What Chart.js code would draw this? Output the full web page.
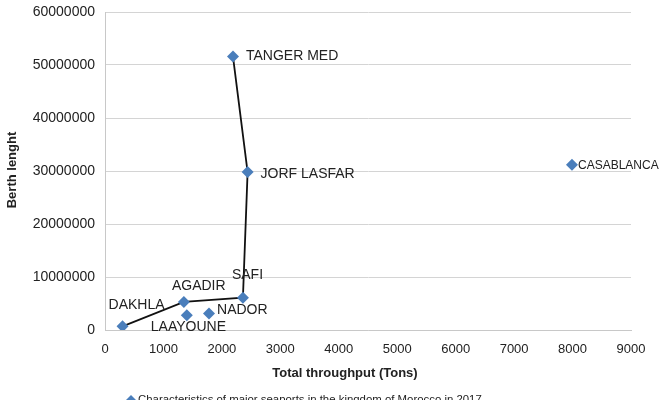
<!DOCTYPE html>
<html>
<head>
<meta charset="utf-8">
<script src="https://cdn.jsdelivr.net/npm/chart.js@4/dist/chart.umd.min.js"></script>
<style>
  html, body { margin: 0; padding: 0; background: #fff; overflow: hidden; }
  #wrap { width: 663px; height: 410px; }
</style>
</head>
<body>
<div id="wrap"><canvas id="c" width="663" height="410"></canvas></div>
<script>
// ports and their values
const ports = ['DAKHLA', 'AGADIR', 'LAAYOUNE', 'NADOR', 'SAFI', 'JORF LASFAR', 'TANGER MED', 'CASABLANCA'];
const throughput = [300, 1350, 1400, 1780, 2360, 2440, 2190, 7990];
const berthLength = [700000, 5300000, 2800000, 3100000, 6100000, 29800000, 51600000, 31200000];
// ports joined by the black line, in drawing order
const linePath = ['DAKHLA', 'AGADIR', 'SAFI', 'JORF LASFAR', 'TANGER MED'];
const xTicks = [0, 1000, 2000, 3000, 4000, 5000, 6000, 7000, 8000, 9000];
const yTicks = [0, 10000000, 20000000, 30000000, 40000000, 50000000, 60000000];

const seriesName = 'Characteristics of major seaports in the kingdom of Morocco in 2017';
const blue = '#4a7ebb';
const textColor = '#222';
const font = '"Liberation Sans", Arial, sans-serif';

// where each label sits relative to its marker (style only)
const labelStyle = {
  'DAKHLA':      { dx: -14, dy: -21, size: 14 },
  'AGADIR':      { dx: -12, dy: -16, size: 14 },
  'LAAYOUNE':    { dx: -36, dy: 12,  size: 14 },
  'NADOR':       { dx: 8,   dy: -3,  size: 14 },
  'SAFI':        { dx: -11, dy: -23, size: 14 },
  'JORF LASFAR': { dx: 13,  dy: 2,   size: 14 },
  'TANGER MED':  { dx: 13,  dy: 0,   size: 14 },
  'CASABLANCA':  { dx: 6,   dy: 1,   size: 12 }
};

const points = ports.map((p, i) => ({ x: throughput[i], y: berthLength[i] }));
const linePoints = linePath.map(p => points[ports.indexOf(p)]);

// labels next to points, axis titles and the bottom legend
const annotate = {
  id: 'annotate',
  afterDatasetsDraw(chart) {
    const ctx = chart.ctx;
    const xs = chart.scales.x, ys = chart.scales.y;
    ctx.save();
    ctx.fillStyle = textColor;
    ctx.textBaseline = 'middle';
    ctx.textAlign = 'left';
    ports.forEach((p, i) => {
      const st = labelStyle[p];
      ctx.font = st.size + 'px ' + font;
      ctx.fillText(p, xs.getPixelForValue(throughput[i]) + st.dx, ys.getPixelForValue(berthLength[i]) + st.dy);
    });

    ctx.font = 'bold 13px ' + font;
    ctx.textAlign = 'center';
    ctx.fillText('Total throughput (Tons)', 345, 373);
    ctx.save();
    ctx.translate(12, 170);
    ctx.rotate(-Math.PI / 2);
    ctx.fillText('Berth lenght', 0, 0);
    ctx.restore();

    // legend
    const lx = 131, ly = 400;
    ctx.fillStyle = blue;
    ctx.beginPath();
    ctx.moveTo(lx - 5, ly); ctx.lineTo(lx, ly - 5); ctx.lineTo(lx + 5, ly); ctx.lineTo(lx, ly + 5);
    ctx.closePath();
    ctx.fill();
    ctx.fillStyle = textColor;
    ctx.font = '11.4px ' + font;
    ctx.textAlign = 'left';
    ctx.fillText(seriesName, lx + 7, ly);
    ctx.restore();
  }
};

new Chart(document.getElementById('c'), {
  type: 'scatter',
  data: {
    datasets: [
      {
        label: seriesName,
        data: points,
        pointStyle: 'rectRot',
        pointRadius: 6,
        pointHoverRadius: 6,
        backgroundColor: blue,
        borderColor: blue,
        borderWidth: 0,
        order: 0
      },
      {
        label: 'path',
        data: linePoints,
        showLine: true,
        pointRadius: 0,
        borderColor: '#111',
        borderWidth: 1.8,
        fill: false,
        order: 1
      }
    ]
  },
  options: {
    responsive: false,
    animation: false,
    layout: { padding: { top: 12, right: 32, left: 0, bottom: 0 } },
    plugins: {
      legend: { display: false },
      tooltip: { enabled: false }
    },
    scales: {
      x: {
        type: 'linear',
        min: 0,
        max: 9000,
        afterFit: s => { s.height = 80; s.paddingLeft = 0; s.paddingRight = 0; },
        afterBuildTicks: s => { s.ticks = xTicks.map(v => ({ value: v })); },
        grid: { display: false, drawTicks: false },
        border: { display: true, color: '#c8c8c8', width: 1 },
        ticks: {
          padding: 12,
          color: textColor,
          font: { family: font, size: 13 },
          callback: v => String(v)
        }
      },
      y: {
        type: 'linear',
        min: 0,
        max: 60000000,
        afterFit: s => { s.width = 105; s.paddingTop = 0; s.paddingBottom = 0; },
        afterBuildTicks: s => { s.ticks = yTicks.map(v => ({ value: v })); },
        grid: { color: '#d4d4d4', lineWidth: 1, drawTicks: false },
        border: { display: true, color: '#c8c8c8', width: 1 },
        ticks: {
          padding: 10,
          color: textColor,
          font: { family: font, size: 14 },
          callback: v => String(v)
        }
      }
    }
  },
  plugins: [annotate]
});
</script>
</body>
</html>
